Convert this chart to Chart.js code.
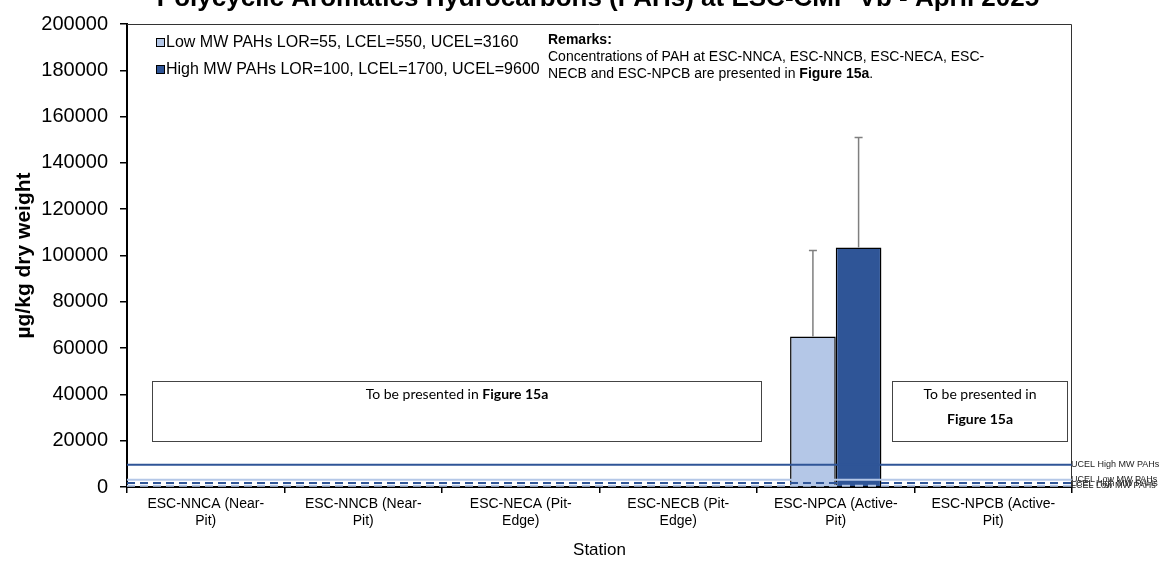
<!DOCTYPE html>
<html>
<head>
<meta charset="utf-8">
<script src="https://cdn.jsdelivr.net/npm/chart.js@4.4.1/dist/chart.umd.min.js"></script>
<style>
    html, body { margin: 0; padding: 0; background: #fff; }
    #wrap { width: 1176px; height: 563px; }
</style>
</head>
<body>
<div id="wrap"><canvas id="chart" width="1176" height="563"></canvas></div>
<script>
// PAHs at ESC-CMP Vb - April 2025

const stations = [
    ['ESC-NNCA (Near-', 'Pit)'],
    ['ESC-NNCB (Near-', 'Pit)'],
    ['ESC-NECA (Pit-', 'Edge)'],
    ['ESC-NECB (Pit-', 'Edge)'],
    ['ESC-NPCA (Active-', 'Pit)'],
    ['ESC-NPCB (Active-', 'Pit)']
];
const lowMw = [null, null, null, null, 65000, 350];
const highMw = [null, null, null, null, 103500, 400];
// upper end of the error bars
const lowMwErrTop = [null, null, null, null, 102200, null];
const highMwErrTop = [null, null, null, null, 151000, null];

// guideline values (ug/kg)
const guideNames = ['UCEL High MW PAHs', 'UCEL Low MW PAHs', 'LCEL High MW PAHs', 'LCEL Low MW PAHs'];
const guideValues = [9600, 3160, 1700, 550];

const yTicks = [0, 20000, 40000, 60000, 80000, 100000, 120000, 140000, 160000, 180000, 200000];

const LIGHT = '#B4C7E7';
const DARK = '#2F5597';
const FONT = 'Arial, "Liberation Sans"';

const guideStyles = [
    { color: DARK, dash: [] },
    { color: LIGHT, dash: [] },
    { color: DARK, dash: [8, 5] },
    { color: LIGHT, dash: [8, 5] }
];

function drawRich(ctx, parts, x, y, size, family) {
    // parts: [[text, bold], ...] drawn left to right
    let cx = x;
    parts.forEach(([text, bold]) => {
        ctx.font = (bold ? 'bold ' : '') + size + 'px ' + family;
        ctx.fillText(text, cx, y);
        cx += ctx.measureText(text).width;
    });
}

function richWidth(ctx, parts, size, family) {
    let w = 0;
    parts.forEach(([text, bold]) => {
        ctx.font = (bold ? 'bold ' : '') + size + 'px ' + family;
        w += ctx.measureText(text).width;
    });
    return w;
}

const overlayPlugin = {
    id: 'overlay',
    beforeDatasetsDraw(chart) {
        const { ctx, chartArea: a } = chart;
        ctx.save();
        // plot frame (top / right)
        ctx.strokeStyle = '#333';
        ctx.lineWidth = 1;
        ctx.beginPath();
        ctx.moveTo(a.left, a.top + 0.5);
        ctx.lineTo(a.right - 0.5, a.top + 0.5);
        ctx.lineTo(a.right - 0.5, a.bottom);
        ctx.stroke();
        ctx.restore();
    },
    afterDatasetsDraw(chart) {
        const { ctx, chartArea: a, scales: { y } } = chart;
        ctx.save();

        // error bars
        const errs = [lowMwErrTop, highMwErrTop];
        chart.data.datasets.forEach((ds, di) => {
            const meta = chart.getDatasetMeta(di);
            meta.data.forEach((bar, i) => {
                const top = errs[di][i];
                if (top == null || ds.data[i] == null) return;
                const yTop = y.getPixelForValue(top);
                ctx.strokeStyle = '#7f7f7f';
                ctx.lineWidth = 1.5;
                ctx.beginPath();
                ctx.moveTo(bar.x, bar.y);
                ctx.lineTo(bar.x, yTop);
                ctx.moveTo(bar.x - 4, yTop);
                ctx.lineTo(bar.x + 4, yTop);
                ctx.stroke();
            });
        });

        // guideline lines
        for (let i = guideValues.length - 1; i >= 0; i--) {
            const py = y.getPixelForValue(guideValues[i]);
            ctx.strokeStyle = guideStyles[i].color;
            ctx.setLineDash(guideStyles[i].dash);
            ctx.lineWidth = 2;
            ctx.beginPath();
            ctx.moveTo(a.left, py);
            ctx.lineTo(a.right, py);
            ctx.stroke();
        }
        ctx.setLineDash([]);
        ctx.fillStyle = '#222';
        ctx.font = '9px ' + FONT;
        ctx.textBaseline = 'middle';
        ctx.textAlign = 'left';
        guideNames.forEach((name, i) => {
            ctx.fillText(name, a.right - 1, y.getPixelForValue(guideValues[i]));
        });

        // "to be presented" boxes
        ctx.strokeStyle = '#444';
        ctx.lineWidth = 1;
        const yb1 = Math.round(y.getPixelForValue(45800)) + 0.5;
        const yb2 = Math.round(y.getPixelForValue(20000)) + 0.5;
        ctx.strokeRect(152.5, yb1, 609, yb2 - yb1);
        ctx.strokeRect(892.5, yb1, 175, yb2 - yb1);

        ctx.fillStyle = '#000';
        ctx.textAlign = 'left';
        const boxText = [['To be presented in ', false], ['Figure 15a', true]];
        const bw = richWidth(ctx, boxText, 14, 'Lato');
        drawRich(ctx, boxText, 457 - bw / 2, yb1 + 13, 14, 'Lato');

        ctx.textAlign = 'center';
        ctx.font = '14px Lato';
        ctx.fillText('To be presented in', 980, yb1 + 13);
        ctx.font = 'bold 14px Lato';
        ctx.fillText('Figure 15a', 980, yb1 + 38);

        // legend
        ctx.textAlign = 'left';
        chart.data.datasets.forEach((ds, i) => {
            const ly = 43 + i * 27;
            ctx.fillStyle = ds.backgroundColor;
            ctx.fillRect(156, ly - 5, 9, 9);
            ctx.strokeStyle = '#000';
            ctx.lineWidth = 1;
            ctx.strokeRect(156.5, ly - 4.5, 8, 8);
            ctx.fillStyle = '#000';
            ctx.font = '16px ' + FONT;
            ctx.fillText(ds.label, 166, ly);
        });

        // remarks
        ctx.font = 'bold 14px ' + FONT;
        ctx.fillText('Remarks:', 548, 40);
        ctx.font = '14px ' + FONT;
        ctx.fillText('Concentrations of PAH at ESC-NNCA, ESC-NNCB, ESC-NECA, ESC-', 548, 57);
        drawRich(ctx, [['NECB and ESC-NPCB are presented in ', false], ['Figure 15a', true], ['.', false]], 548, 74, 14, FONT);

        // chart title (clipped at top as in the source)
        ctx.textAlign = 'center';
        ctx.textBaseline = 'alphabetic';
        ctx.font = 'bold 26px ' + FONT;
        ctx.fillText('Polycyclic Aromatics Hydrocarbons (PAHs) at ESC-CMP Vb - April 2025', 598, 6);

        ctx.restore();
    }
};

new Chart(document.getElementById('chart'), {
    type: 'bar',
    data: {
        labels: stations,
        datasets: [
            {
                label: 'Low MW PAHs LOR=55, LCEL=550, UCEL=3160',
                data: lowMw,
                backgroundColor: LIGHT,
                borderColor: '#000',
                borderWidth: 1.5
            },
            {
                label: 'High MW PAHs LOR=100, LCEL=1700, UCEL=9600',
                data: highMw,
                backgroundColor: DARK,
                borderColor: '#000',
                borderWidth: 1.5
            }
        ]
    },
    options: {
        responsive: false,
        animation: false,
        devicePixelRatio: 1,
        layout: { padding: { top: 20, right: 104, left: 0, bottom: 0 } },
        datasets: { bar: { barPercentage: 1, categoryPercentage: 0.58, skipNull: false } },
        plugins: {
            legend: { display: false },
            tooltip: { enabled: false }
        },
        scales: {
            x: {
                afterFit(scale) { scale.height = 76; },
                grid: { display: true, drawOnChartArea: false, drawTicks: true, tickLength: 6, color: '#000', lineWidth: 1.5 },
                border: { display: true, color: '#000', width: 2 },
                ticks: {
                    color: '#000',
                    font: { family: FONT, size: 14 },
                    maxRotation: 0,
                    autoSkip: false,
                    padding: 3
                },
                title: {
                    display: true,
                    text: 'Station',
                    color: '#000',
                    font: { family: FONT, size: 17 },
                    padding: { top: 0, bottom: 2 }
                }
            },
            y: {
                min: 0,
                max: 200000,
                afterFit(scale) { scale.width = 127; },
                afterBuildTicks(scale) { scale.ticks = yTicks.map(v => ({ value: v })); },
                grid: { display: true, drawOnChartArea: false, drawTicks: true, tickLength: 7, color: '#000', lineWidth: 1.5 },
                border: { display: true, color: '#000', width: 2 },
                ticks: {
                    color: '#000',
                    font: { family: FONT, size: 20 },
                    padding: 12,
                    callback: v => String(v)
                },
                title: {
                    display: true,
                    text: 'µg/kg dry weight',
                    color: '#000',
                    font: { family: FONT, size: 21, weight: 'bold' },
                    padding: { top: 12, bottom: 0 }
                }
            }
        }
    },
    plugins: [overlayPlugin]
});
</script>
</body>
</html>
